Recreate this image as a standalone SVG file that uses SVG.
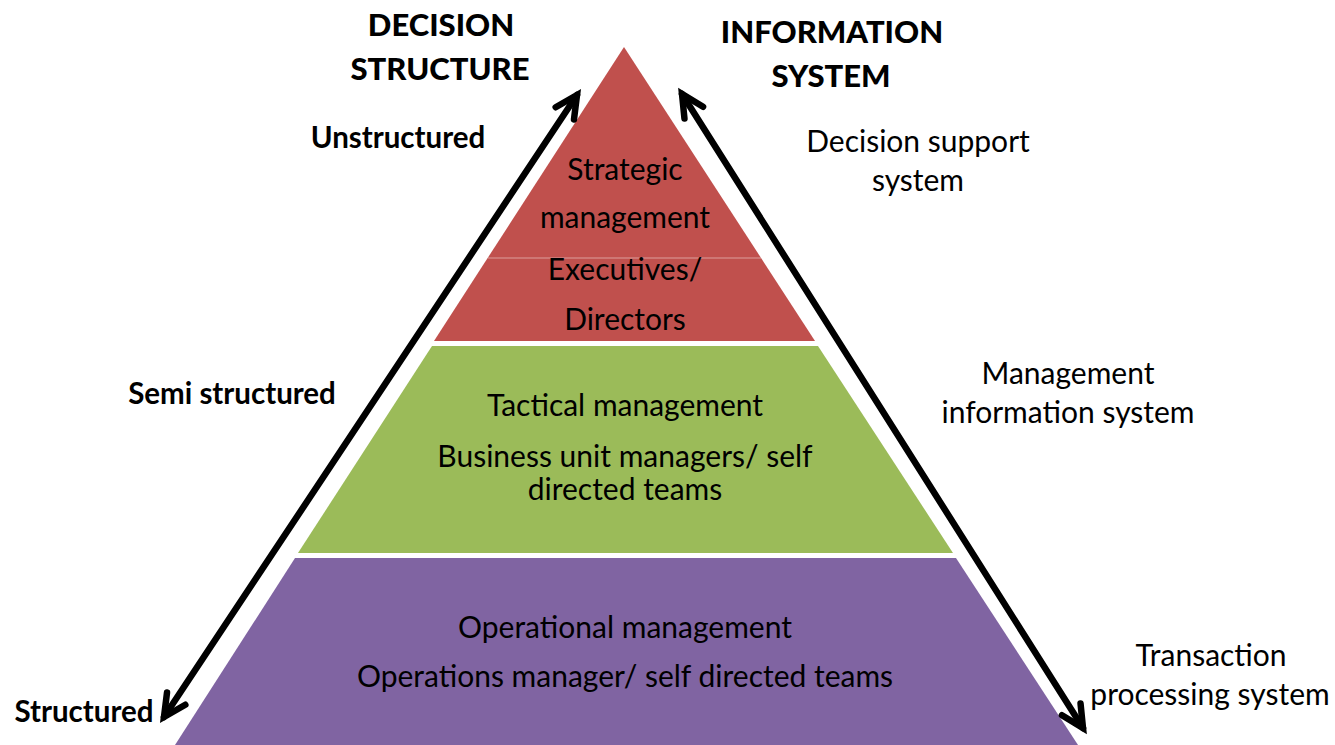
<svg xmlns="http://www.w3.org/2000/svg" width="1335" height="745" viewBox="0 0 1335 745">
<style>
.t{font-family:Lato,"Open Sans","Liberation Sans",sans-serif;font-size:30px;fill:#000;text-anchor:middle}
.b{font-weight:bold;font-size:29.5px}
.h{font-family:Lato,"Liberation Sans",sans-serif;font-weight:900;font-size:31px;fill:#000;text-anchor:middle}
.arr{fill:none;stroke:#000;stroke-width:6.5;stroke-linecap:round;marker-start:url(#ah);marker-end:url(#ah)}
</style>
<defs>
<marker id="ah" markerUnits="userSpaceOnUse" markerWidth="40" markerHeight="40" refX="0" refY="0" viewBox="-30 -20 40 40" orient="auto-start-reverse" overflow="visible">
<path d="M -22 -11 L 0 0 L -22 11" fill="none" stroke="#000" stroke-width="6.5" stroke-linecap="round" stroke-linejoin="miter"/>
</marker>
</defs>
<rect width="1335" height="745" fill="#fff"/>
<g id="strategic">
<polygon points="624,47 815,341 434,341" fill="#C0504D"/>
<line x1="488" y1="258" x2="761" y2="258" stroke="#fff" stroke-opacity="0.45" stroke-width="1"/>
<text class="t" x="625" y="180">Strategic</text>
<text class="t" x="625" y="228">management</text>
<text class="t" x="625" y="280">Executives/</text>
<text class="t" x="625" y="330">Directors</text>
</g>
<g id="tactical">
<polygon points="432,346 818,346 953,553 298,553" fill="#9BBB59"/>
<text class="t" x="625" y="416">Tactical management</text>
<text class="t" x="625" y="467">Business unit managers/ self</text>
<text class="t" x="625" y="500">directed teams</text>
</g>
<g id="operational">
<polygon points="295,558 956,558 1078,745 175,745" fill="#8064A2"/>
<text class="t" x="625" y="638">Operational management</text>
<text class="t" x="625" y="687">Operations manager/ self directed teams</text>
</g>
<g id="connectors">
<line class="arr" x1="577" y1="95" x2="164" y2="717"/>
<line class="arr" x1="682" y1="94" x2="1083" y2="728"/>
</g>
<g id="decision-structure">
<text class="h" x="441" y="36">DECISION</text>
<text class="h" x="440" y="80">STRUCTURE</text>
</g>
<g id="information-system">
<text class="h" x="832" y="43">INFORMATION</text>
<text class="h" x="831" y="87">SYSTEM</text>
</g>
<g id="unstructured"><text class="t b" x="398" y="148">Unstructured</text></g>
<g id="semi-structured"><text class="t b" x="232" y="404">Semi structured</text></g>
<g id="structured"><text class="t b" x="84" y="722">Structured</text></g>
<g id="dss">
<text class="t" x="918" y="152">Decision support</text>
<text class="t" x="918" y="191">system</text>
</g>
<g id="mis">
<text class="t" x="1068" y="384">Management</text>
<text class="t" x="1068" y="423">information system</text>
</g>
<g id="tps">
<text class="t" x="1211" y="666">Transaction</text>
<text class="t" x="1210" y="705">processing system</text>
</g>
</svg>
